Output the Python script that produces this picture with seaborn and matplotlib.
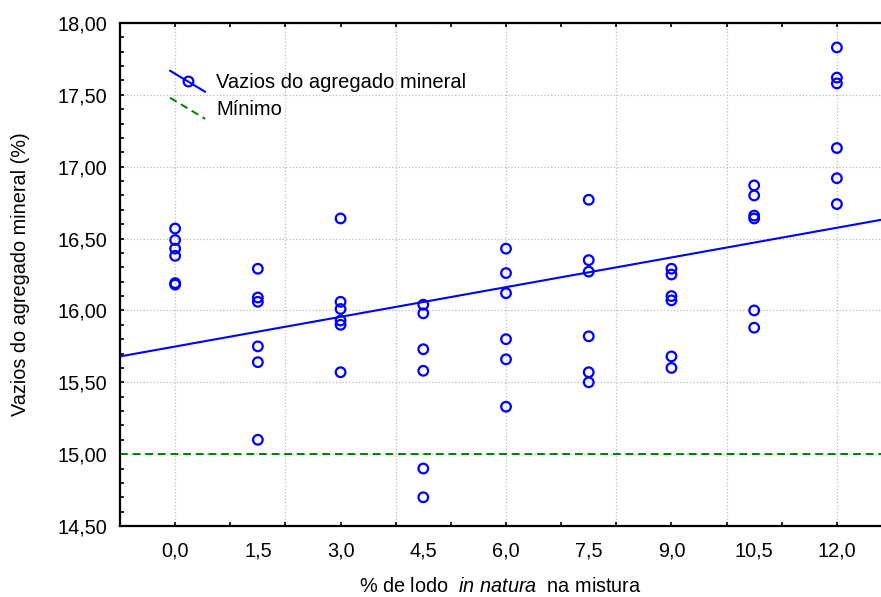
import numpy as np
import pandas as pd
import matplotlib
matplotlib.use("Agg")
import matplotlib.pyplot as plt
import seaborn as sns
from matplotlib.lines import Line2D
from matplotlib.legend_handler import HandlerBase
from matplotlib.ticker import FuncFormatter, MultipleLocator

sns.set_theme(style="white")
plt.rcParams['font.family'] = ['Liberation Sans', 'DejaVu Sans']
plt.rcParams['mathtext.fontset'] = 'custom'
plt.rcParams['mathtext.rm'] = 'Liberation Sans'
plt.rcParams['mathtext.it'] = 'Liberation Sans:italic'
for k in ['text.color', 'axes.labelcolor', 'xtick.color', 'ytick.color']:
    plt.rcParams[k] = 'black'

# % de lodo in natura na mistura
teor_lodo = [0.0, 1.5, 3.0, 4.5, 6.0, 7.5, 9.0, 10.5, 12.0]
x_tick_labels = ['0,0', '1,5', '3,0', '4,5', '6,0', '7,5', '9,0', '10,5', '12,0']

# VAM (%) read per column
vam_00 = [16.57, 16.49, 16.43, 16.38, 16.19, 16.18]
vam_15 = [16.29, 16.09, 16.06, 15.75, 15.64, 15.10]
vam_30 = [16.64, 16.06, 16.01, 15.93, 15.90, 15.57]
vam_45 = [16.04, 15.98, 15.73, 15.58, 14.90, 14.70]
vam_60 = [16.43, 16.26, 16.12, 15.80, 15.66, 15.33]
vam_75 = [16.77, 16.35, 16.27, 15.82, 15.57, 15.50]
vam_90 = [16.29, 16.25, 16.10, 16.07, 15.68, 15.60]
vam_105 = [16.87, 16.80, 16.66, 16.64, 16.00, 15.88]
vam_120 = [17.83, 17.62, 17.58, 17.13, 16.92, 16.74]
vam_minimo = 15.0

cols = [vam_00, vam_15, vam_30, vam_45, vam_60, vam_75, vam_90, vam_105, vam_120]
df = pd.DataFrame({
    'lodo': np.concatenate([[t] * len(c) for t, c in zip(teor_lodo, cols)]),
    'vam': np.concatenate(cols),
})


class DiagonalHandler(HandlerBase):
    # Statistica-like slanted legend keys
    def create_artists(self, legend, orig_handle, xdescent, ydescent,
                       width, height, fontsize, trans):
        cy = (height - ydescent) / 2
        x0, x1 = -xdescent, width - xdescent
        dy = 0.75 * height
        line = Line2D([x0, x1], [cy + dy, cy - dy])
        line.update_from(orig_handle)
        line.set_marker('')
        line.set_transform(trans)
        artists = [line]
        if orig_handle.get_marker() not in ('None', '', None):
            m = Line2D([(x0 + x1) / 2], [cy])
            m.update_from(orig_handle)
            m.set_linestyle('None')
            m.set_transform(trans)
            artists.append(m)
        return artists


fs = 14.3

fig = plt.figure(figsize=(8.81, 5.97), dpi=100)
ax = fig.add_axes([120 / 881, 1 - 526 / 597, 761 / 881, 503 / 597])
ax.set_xlim(-1.0, 12.8)
ax.set_ylim(14.5, 18.0)

sns.regplot(data=df, x='lodo', y='vam', ci=None, truncate=False, ax=ax,
            color='blue',
            scatter_kws=dict(s=48, facecolors='none', edgecolors='blue',
                             linewidths=1.6, alpha=1, zorder=3),
            line_kws=dict(color='blue', lw=1.5, zorder=2))
ax.axhline(vam_minimo, color='green', lw=1.4, ls=(0, (4, 2.5)), zorder=2)

# ticks & grid
ax.xaxis.set_major_locator(MultipleLocator(2))
ax.xaxis.set_minor_locator(MultipleLocator(1))
ax.yaxis.set_major_locator(MultipleLocator(0.5))
ax.yaxis.set_minor_locator(MultipleLocator(0.1))
ax.yaxis.set_major_formatter(FuncFormatter(lambda v, p: f'{v:.2f}'.replace('.', ',')))
ax.tick_params(axis='x', which='both', direction='in', length=3, width=1.2,
               bottom=True, top=True, labelbottom=False)
ax.tick_params(axis='y', which='both', direction='in', length=3, width=1.2,
               left=True, right=False, labelsize=fs, pad=9)
ax.grid(True, which='major', ls=':', color='#bdbdbd', lw=0.9)
ax.set_xlabel('')
ax.set_ylabel('')

sec = ax.secondary_xaxis('bottom')
sec.set_xticks(teor_lodo, x_tick_labels)
sec.tick_params(length=0, labelsize=fs, pad=11)
sec.spines['bottom'].set_visible(False)
sec.set_xlabel(r'% de lodo  $\it{in\ natura}$  na mistura', fontsize=fs, labelpad=12)

ax.set_ylabel('Vazios do agregado mineral (%)', fontsize=fs)
ax.yaxis.set_label_coords(-0.118, 0.5)

for s in ['left', 'bottom', 'top']:
    ax.spines[s].set_color('black')
    ax.spines[s].set_linewidth(1.6)
ax.spines['right'].set_visible(False)

h1 = Line2D([], [], color='blue', lw=1.5, marker='o', mfc='none', mec='blue',
            ms=7, mew=1.6)
h2 = Line2D([], [], color='green', lw=1.4, ls=(0, (4, 2.5)))
ax.legend([h1, h2], ['Vazios do agregado mineral', 'Mínimo'],
          handler_map={Line2D: DiagonalHandler()}, loc='upper left',
          bbox_to_anchor=(0.0657, 0.90), frameon=False, fontsize=14.5,
          handlelength=1.75, handletextpad=0.55, borderpad=0, borderaxespad=0,
          labelspacing=0.4)

fig.savefig('out.png', dpi=100)
